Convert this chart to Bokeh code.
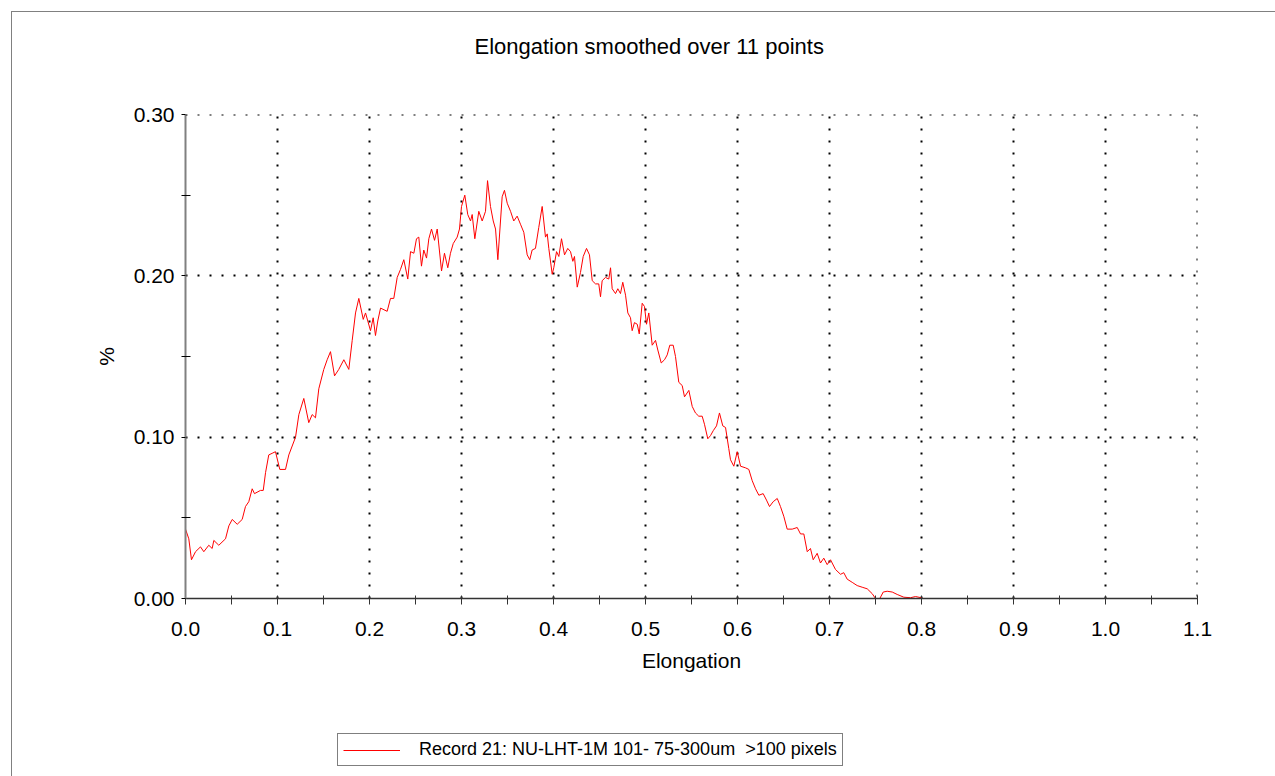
from bokeh.plotting import figure
from bokeh.layouts import column
from bokeh.models import (Range1d, FixedTicker, PrintfTickFormatter, Legend,
                          LegendItem, Span, Title)
from bokeh.embed import file_html
from bokeh.resources import INLINE

title_text = "Elongation smoothed over 11 points"
x_label = "Elongation"
y_label = "%"
series_name = "Record 21: NU-LHT-1M 101- 75-300um  >100 pixels"

x_ticks = [0.0, 0.1, 0.2, 0.3, 0.4, 0.5, 0.6, 0.7, 0.8, 0.9, 1.0, 1.1]
x_minor = [0.05, 0.15, 0.25, 0.35, 0.45, 0.55, 0.65, 0.75, 0.85, 0.95, 1.05]
y_ticks = [0.0, 0.1, 0.2, 0.3]
y_minor = [0.05, 0.15, 0.25]

elong = [0.0000, 0.0036, 0.0065, 0.0109, 0.0163, 0.0199, 0.0253, 0.0290, 0.0308, 0.0362,
         0.0435, 0.0471, 0.0508, 0.0562, 0.0616, 0.0652, 0.0688, 0.0725, 0.0750, 0.0815,
         0.0845, 0.0870, 0.0905, 0.0942, 0.0978, 0.1025, 0.1087, 0.1123, 0.1196, 0.1232,
         0.1286, 0.1340, 0.1377, 0.1413, 0.1449, 0.1503, 0.1540, 0.1576, 0.1620, 0.1666,
         0.1721, 0.1775, 0.1812, 0.1848, 0.1884, 0.1932, 0.1957, 0.2011, 0.2040, 0.2065,
         0.2090, 0.2120, 0.2192, 0.2228, 0.2264, 0.2301, 0.2337, 0.2373, 0.2416, 0.2446,
         0.2482, 0.2511, 0.2536, 0.2565, 0.2590, 0.2620, 0.2645, 0.2674, 0.2707, 0.2736,
         0.2783, 0.2815, 0.2851, 0.2880, 0.2910, 0.2953, 0.2978, 0.3000, 0.3036, 0.3068,
         0.3098, 0.3116, 0.3145, 0.3188, 0.3225, 0.3261, 0.3283, 0.3315, 0.3345, 0.3370,
         0.3395, 0.3442, 0.3467, 0.3497, 0.3533, 0.3568, 0.3605, 0.3641, 0.3677, 0.3714,
         0.3742, 0.3768, 0.3804, 0.3840, 0.3877, 0.3913, 0.3932, 0.3949, 0.3986, 0.4003,
         0.4033, 0.4058, 0.4087, 0.4120, 0.4155, 0.4185, 0.4210, 0.4228, 0.4258, 0.4293,
         0.4323, 0.4359, 0.4391, 0.4421, 0.4457, 0.4492, 0.4511, 0.4529, 0.4565, 0.4601,
         0.4620, 0.4638, 0.4674, 0.4699, 0.4728, 0.4753, 0.4783, 0.4808, 0.4837, 0.4855,
         0.4880, 0.4910, 0.4932, 0.4964, 0.4989, 0.5011, 0.5036, 0.5073, 0.5109, 0.5134,
         0.5171, 0.5207, 0.5236, 0.5264, 0.5301, 0.5326, 0.5362, 0.5399, 0.5424, 0.5471,
         0.5508, 0.5543, 0.5579, 0.5616, 0.5641, 0.5677, 0.5707, 0.5736, 0.5772, 0.5804,
         0.5840, 0.5870, 0.5905, 0.5924, 0.5960, 0.5997, 0.6033, 0.6087, 0.6123, 0.6160,
         0.6196, 0.6232, 0.6279, 0.6315, 0.6348, 0.6388, 0.6432, 0.6467, 0.6503, 0.6540,
         0.6595, 0.6649, 0.6685, 0.6721, 0.6758, 0.6793, 0.6823, 0.6866, 0.6902, 0.6938,
         0.6975, 0.7011, 0.7065, 0.7120, 0.7155, 0.7192, 0.7247, 0.7301, 0.7355, 0.7410,
         0.7464, 0.7500, 0.7547, 0.7584, 0.7627, 0.7682, 0.7736, 0.7808, 0.7880, 0.7935,
         0.7997, 0.8043, 0.9000, 1.0000]

percent = [0.043, 0.037, 0.024, 0.029, 0.032, 0.029, 0.033, 0.031, 0.036, 0.033,
           0.037, 0.045, 0.049, 0.046, 0.049, 0.057, 0.060, 0.068, 0.065, 0.067,
           0.067, 0.078, 0.089, 0.090, 0.091, 0.080, 0.080, 0.089, 0.100, 0.114,
           0.124, 0.109, 0.114, 0.112, 0.130, 0.142, 0.148, 0.153, 0.138, 0.142,
           0.148, 0.142, 0.160, 0.177, 0.186, 0.173, 0.177, 0.166, 0.174, 0.163,
           0.172, 0.180, 0.178, 0.186, 0.186, 0.199, 0.204, 0.210, 0.198, 0.215,
           0.214, 0.223, 0.224, 0.206, 0.216, 0.211, 0.223, 0.229, 0.222, 0.229,
           0.203, 0.214, 0.205, 0.214, 0.220, 0.224, 0.229, 0.243, 0.250, 0.238,
           0.234, 0.238, 0.223, 0.240, 0.234, 0.240, 0.259, 0.243, 0.234, 0.229,
           0.210, 0.249, 0.253, 0.245, 0.240, 0.234, 0.237, 0.232, 0.227, 0.213,
           0.210, 0.216, 0.217, 0.230, 0.243, 0.224, 0.226, 0.217, 0.201, 0.205,
           0.215, 0.212, 0.223, 0.213, 0.217, 0.215, 0.209, 0.212, 0.193, 0.202,
           0.212, 0.217, 0.213, 0.197, 0.195, 0.195, 0.187, 0.197, 0.199, 0.198,
           0.205, 0.192, 0.189, 0.192, 0.189, 0.196, 0.188, 0.177, 0.174, 0.166,
           0.171, 0.170, 0.164, 0.183, 0.181, 0.170, 0.177, 0.157, 0.160, 0.154,
           0.146, 0.148, 0.151, 0.157, 0.157, 0.150, 0.134, 0.132, 0.125, 0.129,
           0.119, 0.115, 0.113, 0.113, 0.108, 0.099, 0.101, 0.104, 0.107, 0.115,
           0.107, 0.106, 0.093, 0.086, 0.082, 0.091, 0.082, 0.081, 0.080, 0.073,
           0.068, 0.064, 0.065, 0.061, 0.057, 0.060, 0.062, 0.057, 0.051, 0.043,
           0.043, 0.044, 0.040, 0.040, 0.029, 0.031, 0.024, 0.028, 0.022, 0.025,
           0.021, 0.024, 0.018, 0.015, 0.016, 0.012, 0.010, 0.008, 0.007, 0.006,
           0.003, 0.000, 0.000, 0.004, 0.0045, 0.004, 0.0025, 0.0008, 0.0005, 0.0012,
           0.0005, -0.0008, -0.0008, -0.0008]

FONT = "Liberation Sans"

p = figure(frame_width=1012, frame_height=484,
           min_border_left=185, min_border_right=78,
           min_border_top=114, min_border_bottom=102,
           x_range=Range1d(0, 1.1), y_range=Range1d(0, 0.3),
           output_backend="svg", toolbar_location=None,
           background_fill_color="white", border_fill_color=None)
p.outline_line_color = None

# spacer (nearest the frame) then the title
p.add_layout(Title(text=" ", standoff=29, text_font=FONT, text_font_size="22px"), "above")
t = Title(text=title_text, align="left", offset=289, standoff=0,
          text_font=FONT, text_font_size="22px", text_font_style="normal",
          text_color="black")
p.add_layout(t, "above")

# axes
xa = p.xaxis[0]
xa.ticker = FixedTicker(ticks=x_ticks + x_minor)
xa.formatter = PrintfTickFormatter(format="%.1f")
xa.major_label_overrides = {t_: "" for t_ in x_minor}
xa.axis_line_color = "#333333"
xa.axis_line_width = 1.5
xa.major_tick_line_color = "#333333"
xa.major_tick_in = 3
xa.major_tick_out = 6
xa.minor_tick_line_color = None
xa.major_label_text_font = FONT
xa.major_label_text_font_size = "21px"
xa.major_label_text_color = "black"
xa.major_label_standoff = 17
xa.axis_label = x_label
xa.axis_label_text_font = FONT
xa.axis_label_text_font_size = "21px"
xa.axis_label_text_font_style = "normal"
xa.axis_label_text_color = "black"
xa.axis_label_standoff = 10

ya = p.yaxis[0]
ya.ticker = FixedTicker(ticks=y_ticks, minor_ticks=y_minor)
ya.formatter = PrintfTickFormatter(format="%.2f")
ya.axis_line_color = "#808080"
ya.axis_line_width = 2
ya.major_tick_line_color = "black"
ya.major_tick_in = 0
ya.major_tick_out = 4
ya.minor_tick_line_color = "black"
ya.minor_tick_in = 5
ya.minor_tick_out = 4
ya.major_label_text_font = FONT
ya.major_label_text_font_size = "21px"
ya.major_label_text_color = "black"
ya.major_label_standoff = 7
ya.axis_label = y_label
ya.axis_label_text_font = FONT
ya.axis_label_text_font_size = "21px"
ya.axis_label_text_font_style = "normal"
ya.axis_label_text_color = "black"
ya.axis_label_standoff = 13

# grids
p.xgrid[0].ticker = FixedTicker(ticks=x_ticks)
p.ygrid[0].ticker = FixedTicker(ticks=y_ticks)
for g in (p.xgrid[0], p.ygrid[0]):
    g.grid_line_color = "black"
    g.grid_line_width = 2
    g.grid_line_dash = "2 10"
p.add_layout(Span(location=y_ticks[-1], dimension="width", line_color="black",
                  line_width=2, line_dash="2 10"))
p.add_layout(Span(location=x_ticks[-1], dimension="height", line_color="black",
                  line_width=2, line_dash="2 10"))

p.line(elong, percent, line_color="#ff0000", line_width=1)

# legend strip: a second figure below the chart
p2 = figure(width=1275, height=76, min_border=0,
            x_range=Range1d(0, 1.1), y_range=Range1d(10, 11),
            x_axis_location=None, y_axis_location=None,
            output_backend="svg", toolbar_location=None,
            background_fill_color=None, border_fill_color=None)
p2.outline_line_color = None
p2.grid.visible = False
r2 = p2.line(elong, percent, line_color="#ff0000", line_width=1)
leg = Legend(items=[LegendItem(label=series_name, renderers=[r2])],
             location=(152, 10), orientation="vertical",
             border_line_color="black", border_line_width=1,
             background_fill_color="white", background_fill_alpha=1,
             label_text_font=FONT, label_text_font_size="18px",
             label_text_color="black", glyph_width=57, glyph_height=20,
             label_height=20, label_standoff=19, padding=5, margin=0, spacing=0)
p2.add_layout(leg, "center")

page = column(p, p2, spacing=0)
page.stylesheets = [":host { background:"
                    " linear-gradient(#808080, #808080) 11px 11px / 100% 1px no-repeat,"
                    " linear-gradient(#808080, #808080) 11px 11px / 1px 100% no-repeat,"
                    " white; }"]

open("out.html", "w").write(file_html(page, INLINE))
